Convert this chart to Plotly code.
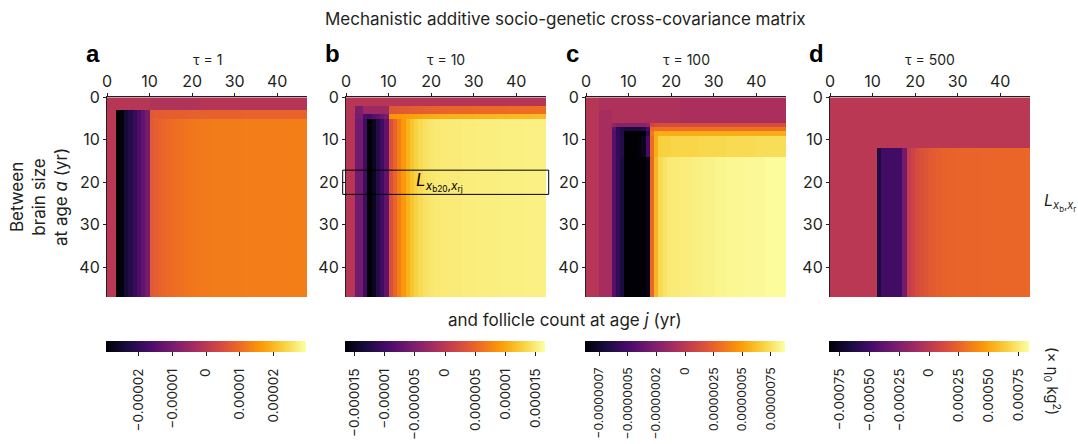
import plotly.graph_objects as go

W, H = 1078, 444
FONT = "Inter, Open Sans, sans-serif"
INK = "#231f20"

# ---------------- data ----------------
title = "Mechanistic additive socio-genetic cross-covariance matrix"
panel_letters = ["a", "b", "c", "d"]
taus = [1, 10, 100, 500]
n_age = 47
axis_ticks = [0, 10, 20, 30, 40]
ages = [k + 0.5 for k in range(n_age)]   # age cells (yr)

# Panel a (units of 1e-5)
unit_a = 1e-5
a_top = [-0.06, -0.06, -0.06, -0.06, -0.06, -0.06, -0.06, -0.06, -0.06, -0.06,
         -0.15, -0.15, -0.15, -0.15, -0.15, -0.15, -0.15, -0.15, -0.15, -0.15, -0.15, -0.15,
         -0.08, -0.08, -0.08, -0.08, -0.08, -0.08, -0.08, -0.08, -0.08, -0.08, -0.08, -0.08, -0.08,
         -0.08, -0.08, -0.08, -0.08, -0.08, -0.08, -0.08, -0.08, -0.08, -0.08, -0.08, -0.08]
a_band = [0.0, 0.0, -2.97, -2.85, -2.4, -2.2, -1.9, -1.6, -1.3, -1.0,
          0.70, 0.74, 0.76, 0.78, 0.79, 0.80, 0.81, 0.82, 0.82, 0.83, 0.83, 0.83,
          0.84, 0.84, 0.84, 0.84, 0.85, 0.85, 0.85, 0.85, 0.85, 0.85, 0.86, 0.86, 0.86,
          0.86, 0.86, 0.86, 0.86, 0.87, 0.87, 0.87, 0.87, 0.87, 0.87, 0.87, 0.87]
a_main = [0.0, 0.0, -2.97, -2.85, -2.4, -2.2, -1.9, -1.6, -1.3, -1.0,
          0.72, 0.80, 0.86, 0.92, 0.97, 1.02, 1.06, 1.10, 1.13, 1.16, 1.18, 1.20,
          1.21, 1.22, 1.22, 1.23, 1.23, 1.23, 1.24, 1.24, 1.24, 1.24, 1.25, 1.25, 1.25,
          1.25, 1.25, 1.26, 1.26, 1.26, 1.26, 1.26, 1.26, 1.27, 1.27, 1.27, 1.27]
a_rows = [(3, a_top), (2, a_band), (42, a_main)]

# Panel b (units of 1e-6)
unit_b = 1e-6
b_top = [-0.3, -0.3, -0.3, -0.3, -0.3, -0.3, -0.3, -0.3, -0.3, -0.3,
         -0.3, -0.3, -0.3, -0.3, -0.3, -0.3, -0.3, -0.3, -0.3, -0.3, -0.3, -0.3,
         -0.5, -0.5, -0.5, -0.5, -0.5, -0.5, -0.5, -0.5, -0.5, -0.5, -0.5, -0.5, -0.5,
         -0.5, -0.5, -0.5, -0.5, -0.5, -0.5, -0.5, -0.5, -0.5, -0.5, -0.5, -0.5]
b_band = [-0.3, -0.3, -5.0, -5.0, -2.5, -2.5, -2.5, -2.5, -2.5, -2.5,
          3.6, 3.8, 4.0, 4.1, 4.2, 4.3, 4.4, 4.5, 4.6, 4.7, 4.8, 4.9,
          5.0, 5.0, 5.1, 5.1, 5.2, 5.2, 5.3, 5.3, 5.4, 5.4, 5.5, 5.5, 5.5,
          5.6, 5.6, 5.6, 5.7, 5.7, 5.7, 5.8, 5.8, 5.8, 5.9, 5.9, 5.9]
b_row4 = [-0.3, -0.3, -5.5, -5.5, -9.0, -9.5, -8.5, -7.5, -6.5, -5.5,
          8.5, 8.8, 9.0, 9.2, 9.4, 9.6, 9.8, 10.0, 10.1, 10.2, 10.3, 10.4,
          10.5, 10.5, 10.6, 10.6, 10.7, 10.7, 10.8, 10.8, 10.9, 10.9, 11.0, 11.0, 11.0,
          11.1, 11.1, 11.1, 11.2, 11.2, 11.2, 11.3, 11.3, 11.3, 11.4, 11.4, 11.4]
b_main = [-0.3, -0.3, -6.0, -6.0, -10.0, -16.5, -15.0, -12.0, -10.0, -7.3,
          3.0, 5.0, 7.0, 9.0, 10.7, 12.0, 13.0, 13.7, 14.2, 14.5, 14.7, 14.8,
          14.9, 14.9, 15.0, 15.0, 15.0, 15.1, 15.1, 15.1, 15.1, 15.2, 15.2, 15.2, 15.2,
          15.2, 15.3, 15.3, 15.3, 15.3, 15.3, 15.3, 15.4, 15.4, 15.4, 15.4, 15.4]
b_rows = [(2, b_top), (2, b_band), (1, b_row4), (42, b_main)]

# Panel c (units of 1e-7)
unit_c = 1e-7
c_top = [-0.2, -0.2, -0.2, -0.6, -0.6, -0.6, -0.6, -0.6, -0.6, -0.6,
         -0.6, -0.6, -0.6, -0.6, -0.6, -0.6, -0.6, -0.6, -0.6, -0.6, -0.6, -0.6,
         -0.7, -0.7, -0.7, -0.7, -0.7, -0.7, -0.7, -0.7, -0.7, -0.7, -0.7, -0.7, -0.7,
         -0.7, -0.7, -0.7, -0.7, -0.7, -0.7, -0.7, -0.7, -0.7, -0.7, -0.7, -0.7]
c_band1 = [-0.2, -0.2, -0.2, -0.9, -0.9, -0.9, -0.6, -0.6, -0.6, -0.6,
           -0.6, -0.6, -0.6, -0.6, -0.6, -0.6, -0.6, -0.6, -0.6, -0.6, -0.6, -0.6,
           -0.7, -0.7, -0.7, -0.7, -0.7, -0.7, -0.7, -0.7, -0.7, -0.7, -0.7, -0.7, -0.7,
           -0.7, -0.7, -0.7, -0.7, -0.7, -0.7, -0.7, -0.7, -0.7, -0.7, -0.7, -0.7]
c_row6 = [-0.2, -0.2, -0.2, -0.9, -0.9, -0.9, -1.8, -2.2, -2.2, -2.2,
          -2.2, -2.2, -2.2, -2.2, -1.8, 1.0, 1.3, 1.4, 1.4, 1.4, 1.4, 1.4,
          1.4, 1.4, 1.4, 1.4, 1.4, 1.4, 1.4, 1.4, 1.4, 1.4, 1.4, 1.4, 1.4,
          1.4, 1.4, 1.4, 1.4, 1.4, 1.4, 1.4, 1.4, 1.4, 1.4, 1.4, 1.4]
c_row7 = [-0.2, -0.2, -0.2, -0.9, -0.9, -0.9, -4.0, -6.0, -6.5, -7.0,
          -7.0, -7.0, -7.0, -6.5, -5.0, 3.0, 3.2, 3.2, 3.2, 3.2, 3.2, 3.2,
          3.2, 3.2, 3.2, 3.2, 3.2, 3.2, 3.2, 3.2, 3.2, 3.2, 3.2, 3.2, 3.2,
          3.2, 3.2, 3.2, 3.2, 3.2, 3.2, 3.2, 3.2, 3.2, 3.2, 3.2, 3.2]
c_row8 = [-0.2, -0.2, -0.2, -0.9, -0.9, -0.9, -4.4, -6.0, -6.5, -8.7,
          -8.7, -8.7, -8.7, -8.7, -6.0, 3.5, 5.3, 5.5, 5.5, 5.5, 5.5, 5.5,
          5.5, 5.5, 5.5, 5.5, 5.5, 5.5, 5.5, 5.5, 5.5, 5.5, 5.5, 5.5, 5.5,
          5.5, 5.5, 5.5, 5.5, 5.5, 5.5, 5.5, 5.5, 5.5, 5.5, 5.5, 5.5]
c_mid = [-0.2, -0.2, -0.2, -0.9, -0.9, -0.9, -4.4, -5.8, -6.3, -8.7,
         -8.7, -8.7, -8.5, -8.0, -5.0, 3.0, 5.5, 6.8, 6.9, 6.9, 7.0, 7.0,
         7.0, 7.0, 7.0, 7.0, 7.1, 7.1, 7.1, 7.1, 7.1, 7.1, 7.1, 7.2, 7.2,
         7.2, 7.2, 7.2, 7.2, 7.2, 7.3, 7.3, 7.3, 7.3, 7.3, 7.3, 7.3]
c_main = [-0.2, -0.2, -0.2, -0.9, -0.9, -0.9, -4.4, -5.8, -6.8, -8.7,
          -8.7, -8.7, -8.7, -8.7, -8.2, 2.8, 5.8, 7.2, 7.6, 7.8, 7.9, 7.9,
          8.0, 8.0, 8.0, 8.1, 8.1, 8.2, 8.2, 8.2, 8.3, 8.3, 8.3, 8.4, 8.4,
          8.4, 8.4, 8.5, 8.5, 8.5, 8.5, 8.5, 8.6, 8.6, 8.6, 8.6, 8.6]
c_rows = [(3, c_top), (3, c_band1), (1, c_row6), (1, c_row7), (1, c_row8),
          (5, c_mid), (33, c_main)]

# Panel d (units of 1e-4)
unit_d = 1e-4
d_top = [0.0, 0.0, 0.0, 0.0, 0.0, 0.0, 0.0, 0.0, 0.0, 0.0,
         0.0, 0.0, 0.0, 0.0, 0.0, 0.0, 0.0, 0.0, 0.0, 0.0, 0.0, 0.0,
         0.0, 0.0, 0.0, 0.0, 0.0, 0.0, 0.0, 0.0, 0.0, 0.0, 0.0, 0.0, 0.0,
         0.0, 0.0, 0.0, 0.0, 0.0, 0.0, 0.0, 0.0, 0.0, 0.0, 0.0, 0.0]
d_main = [0.0, 0.0, 0.0, 0.0, 0.0, 0.0, 0.0, 0.0, 0.0, 0.0,
          0.0, -6.5, -5.0, -5.0, -5.0, -5.0, -5.0, -3.0, 0.3, 0.9, 1.3, 1.6,
          1.8, 2.0, 2.15, 2.3, 2.4, 2.45, 2.5, 2.5, 2.52, 2.54, 2.55, 2.56, 2.57,
          2.58, 2.59, 2.6, 2.6, 2.61, 2.62, 2.62, 2.63, 2.63, 2.64, 2.64, 2.65]
d_rows = [(12, d_top), (35, d_main)]

panel_rows = [a_rows, b_rows, c_rows, d_rows]
panel_units = [unit_a, unit_b, unit_c, unit_d]
cbar_ranges = [2.97e-5, 1.656e-5, 8.74e-7, 8.4e-4]
cbar_tickvals = [
    [-2e-5, -1e-5, 0, 1e-5, 2e-5],
    [-1.5e-5, -1e-5, -5e-6, 0, 5e-6, 1e-5, 1.5e-5],
    [-7.5e-7, -5e-7, -2.5e-7, 0, 2.5e-7, 5e-7, 7.5e-7],
    [-7.5e-4, -5e-4, -2.5e-4, 0, 2.5e-4, 5e-4, 7.5e-4],
]
cbar_ticktext = [
    ["\u22120.00002", "\u22120.00001", "0", "0.00001", "0.00002"],
    ["\u22120.000015", "\u22120.00001", "\u22120.000005", "0", "0.000005", "0.00001", "0.000015"],
    ["\u22120.0000007", "\u22120.0000005", "\u22120.0000002", "0", "0.0000025", "0.0000005", "0.0000075"],
    ["\u22120.00075", "\u22120.00050", "\u22120.00025", "0", "0.00025", "0.00050", "0.00075"],
]
cbar_font = [13.5, 13.5, 12.2, 13.5]
highlight_age = 20       # row highlighted in panel b
highlight_half = 2.85

# ---------------- layout geometry (pixels) ----------------
px_x = [(107, 307), (346, 546), (586, 786), (830, 1030)]
px_top, px_bot = 97.3, 297.0
cbar_top = 341.0


def fx(p):
    return p / W


def fy(p):
    return 1 - p / H


def build(rows, unit):
    z = []
    for count, prof in rows:
        for _ in range(count):
            z.append([v * unit for v in prof])
    return z


fig = go.Figure()
layout = dict(
    width=W, height=H, margin=dict(l=0, r=0, t=0, b=0, autoexpand=False),
    paper_bgcolor="white", plot_bgcolor="white",
    font=dict(family=FONT, color=INK, size=14),
    showlegend=False,
)

annotations = []
for i in range(4):
    n = i + 1
    sfx = "" if n == 1 else str(n)
    z = build(panel_rows[i], panel_units[i])
    fig.add_trace(go.Heatmap(
        z=z, x=ages, y=ages, coloraxis="coloraxis" + sfx,
        xaxis="x" + sfx, yaxis="y" + sfx, zsmooth=False, hoverinfo="skip",
    ))
    x0, x1 = px_x[i]
    axcommon = dict(
        tickvals=axis_ticks, ticks="outside", ticklen=3, tickwidth=1, tickcolor=INK,
        showline=True, linecolor=INK, linewidth=1, mirror=False, automargin=False,
        showgrid=False, zeroline=False, tickfont=dict(size=16, family=FONT, color=INK),
    )
    layout["xaxis" + sfx] = dict(domain=[fx(x0), fx(x1)], range=[0, n_age], side="top",
                                 anchor="y" + sfx, **axcommon)
    layout["yaxis" + sfx] = dict(domain=[fy(px_bot), fy(px_top)], range=[n_age, 0],
                                 anchor="x" + sfx, **axcommon)
    r = cbar_ranges[i]
    layout["coloraxis" + sfx] = dict(
        cmin=-r, cmax=r, colorscale="Inferno",
        colorbar=dict(
            orientation="h", x=fx((x0 + x1) / 2 - 1), xanchor="center",
            y=fy(cbar_top), yanchor="top", len=(x1 - x0) / W, lenmode="fraction",
            thickness=11, xpad=0, ypad=0, outlinewidth=0,
            tickmode="array", tickvals=cbar_tickvals[i],
            ticktext=[t + "\u00a0\u00a0" for t in cbar_ticktext[i]],
            ticks="outside", ticklen=4, tickwidth=1, tickcolor=INK, tickangle=-90,
            tickfont=dict(size=cbar_font[i], family=FONT, color=INK),
        ),
    )
    # panel letter
    annotations.append(dict(text="<b>%s</b>" % panel_letters[i], xref="paper", yref="paper",
                            x=fx(x0 - 14), y=fy(54), xanchor="center", yanchor="middle",
                            showarrow=False,
                            font=dict(size=24, family="Liberation Sans, Arial", color="black")))
    # tau label
    annotations.append(dict(text="\u03c4 = %d" % taus[i], xref="paper", yref="paper",
                            x=fx((x0 + x1) / 2), y=fy(60), xanchor="center", yanchor="middle",
                            showarrow=False, font=dict(size=14)))

# titles
annotations.append(dict(text=title, xref="paper", yref="paper", x=fx(565), y=fy(19),
                        xanchor="center", yanchor="middle", showarrow=False, font=dict(size=17)))
annotations.append(dict(text="and follicle count at age <i>j</i> (yr)", xref="paper", yref="paper",
                        x=fx(565), y=fy(320), xanchor="center", yanchor="middle",
                        showarrow=False, font=dict(size=17)))
annotations.append(dict(text="Between<br>brain size<br>at age <i>a</i> (yr)", xref="paper",
                        yref="paper", x=fx(39), y=fy(197), xanchor="center", yanchor="middle",
                        textangle=-90, showarrow=False, font=dict(size=17)))
annotations.append(dict(text="<i>L</i><sub><i>x</i><sub>b</sub>,<i>x</i><sub>r</sub></sub>",
                        xref="paper", yref="paper", x=fx(1060), y=fy(202), xanchor="center",
                        yanchor="middle", showarrow=False, font=dict(size=16)))
annotations.append(dict(text="(\u00d7 \u03b7<sub>0</sub> kg<sup>2</sup>)", xref="paper",
                        yref="paper", x=fx(1052), y=fy(381), xanchor="center", yanchor="middle",
                        textangle=90, showarrow=False, font=dict(size=15)))
# highlighted row in panel b
bx0, bx1 = px_x[1]
scale = (px_bot - px_top) / n_age
hy0 = px_top + (highlight_age - highlight_half) * scale
hy1 = px_top + (highlight_age + highlight_half) * scale
annotations.append(dict(text="<i>L</i><sub><i>x</i><sub>b20</sub>,<i>x</i><sub>rj</sub></sub>",
                        xref="x2", yref="y2", x=22, y=highlight_age, xanchor="center",
                        yanchor="middle", showarrow=False, font=dict(size=17, color="black")))
layout["shapes"] = [dict(type="rect", xref="paper", yref="paper",
                         x0=fx(bx0 - 3.3), x1=fx(bx1 + 2.7), y0=fy(hy0), y1=fy(hy1),
                         line=dict(color="black", width=1), fillcolor="rgba(0,0,0,0)")]
layout["annotations"] = annotations
fig.update_layout(**layout)
fig.write_html("out.html")
